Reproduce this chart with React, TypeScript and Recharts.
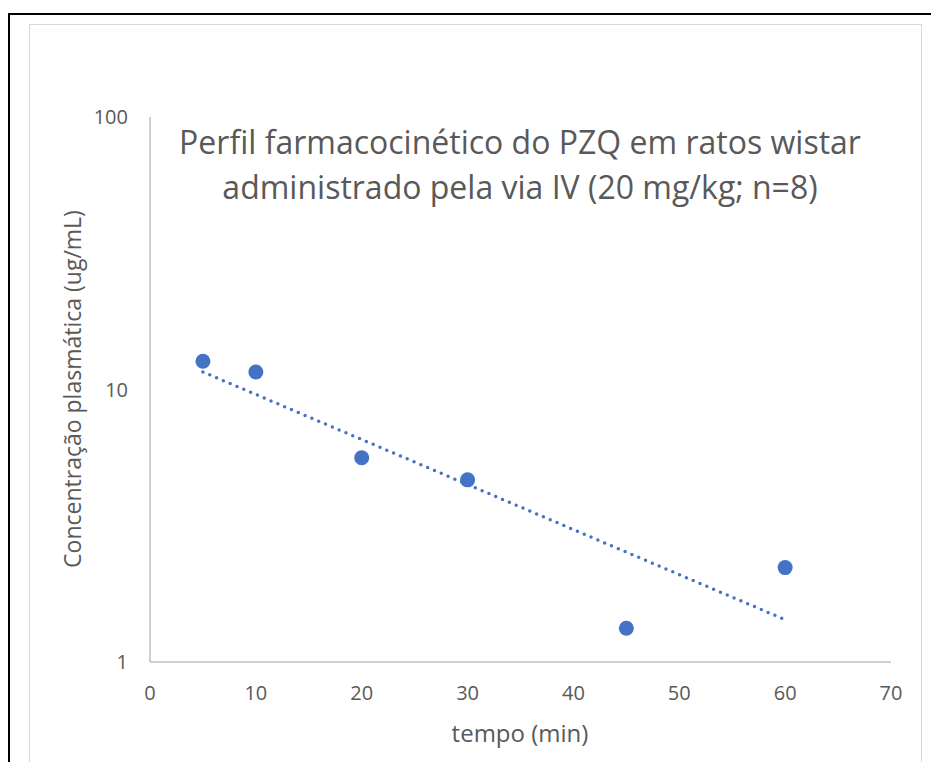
import { ScatterChart, Scatter, XAxis, YAxis } from 'recharts';

// tempo (min) vs concentração (ug/mL)
const tempo = [5, 10, 20, 30, 45, 60];
const concentracao = [12.7, 11.6, 5.62, 4.66, 1.33, 2.22];

// exponential trendline endpoints (straight on the log axis)
const trendTempo = [5, 60];
const trendConc = [11.6, 1.43];

const xTicks = [0, 10, 20, 30, 40, 50, 60, 70];
const yTicks = [1, 10, 100];

const TEXT = '#595959';
const AXIS = '#bfbfbf';
const BLUE = '#4472C4';
const FONT = '"Open Sans", sans-serif';

const points = tempo.map((t, i) => ({ x: t, y: concentracao[i] }));
const trend = trendTempo.map((t, i) => ({ x: t, y: trendConc[i] }));

export default function App() {
  return (
    <div style={{ position: 'relative', width: 931, height: 754, overflow: 'hidden', fontFamily: FONT }}>
      {/* black frame */}
      <div style={{ position: 'absolute', left: 0, top: 5, width: 960, height: 800, borderTop: '2px solid #000', borderLeft: '2px solid #000' }} />
      {/* chart area border */}
      <div style={{ position: 'absolute', left: 21, top: 16, width: 891, height: 800, border: '1px solid #d9d9d9' }} />

      <div style={{ position: 'absolute', left: 0, top: 0 }}>
        <ScatterChart width={931} height={754} margin={{ top: 109, right: 48, bottom: 0, left: 0 }}>
          <XAxis
            type="number"
            dataKey="x"
            domain={[0, 70]}
            ticks={xTicks}
            height={100}
            tickLine={false}
            tickSize={0}
            tickMargin={24}
            axisLine={{ stroke: AXIS, strokeWidth: 1.5 }}
            tick={{ fill: TEXT, fontSize: 20, fontFamily: FONT }}
          />
          <YAxis
            type="number"
            dataKey="y"
            scale="log"
            domain={[1, 100]}
            ticks={yTicks}
            allowDataOverflow
            width={142}
            tickLine={false}
            tickSize={0}
            tickMargin={22}
            axisLine={{ stroke: AXIS, strokeWidth: 1.5 }}
            tick={{ fill: TEXT, fontSize: 20, fontFamily: FONT }}
          />
          <Scatter
            data={trend}
            isAnimationActive={false}
            shape={() => <g />}
            line={{ stroke: BLUE, strokeWidth: 3.5, strokeDasharray: '0 7.4', strokeLinecap: 'round' }}
          />
          <Scatter
            data={points}
            isAnimationActive={false}
            fill={BLUE}
            shape={(p: any) => <circle cx={p.cx} cy={p.cy} r={7.5} fill={BLUE} />}
          />
        </ScatterChart>
      </div>

      {/* title */}
      <div style={{ position: 'absolute', left: 62, width: 900, top: 111, textAlign: 'center', color: TEXT, fontSize: 32, lineHeight: '45px', whiteSpace: 'nowrap' }}>
        Perfil farmacocinético do PZQ em ratos wistar<br />administrado pela via IV (20 mg/kg; n=8)
      </div>

      {/* y label */}
      <div style={{ position: 'absolute', left: 64 - 250, top: 381 - 15, width: 500, height: 30, lineHeight: '30px', textAlign: 'center', transform: 'rotate(-90deg)', color: TEXT, fontSize: 23, whiteSpace: 'nowrap' }}>
        Concentração plasmática (ug/mL)
      </div>

      {/* x label */}
      <div style={{ position: 'absolute', left: 262, width: 500, top: 710, lineHeight: '30px', textAlign: 'center', color: TEXT, fontSize: 24 }}>
        tempo (min)
      </div>
    </div>
  );
}
